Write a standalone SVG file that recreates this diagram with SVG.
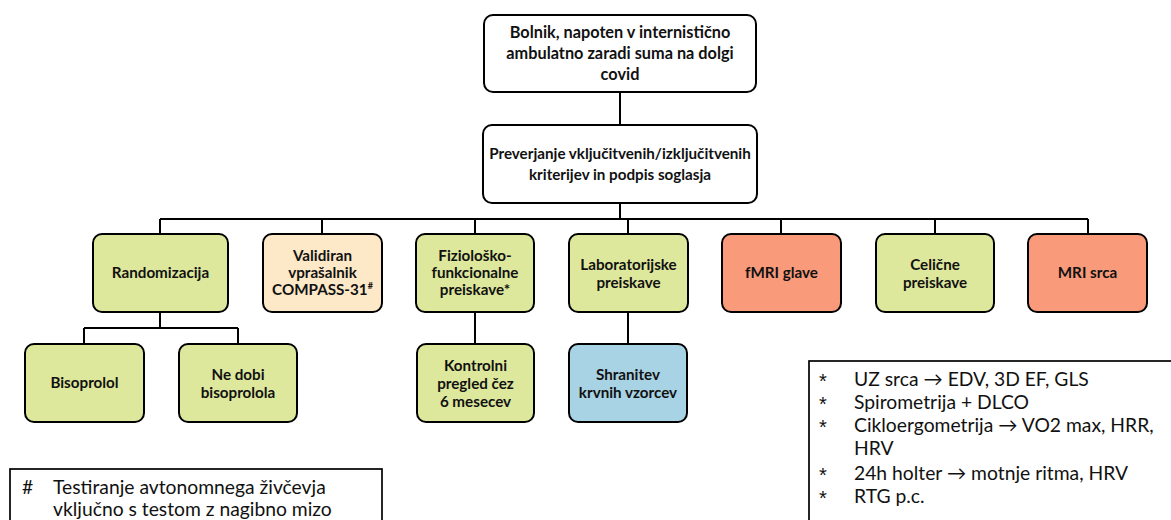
<svg xmlns="http://www.w3.org/2000/svg" width="1171" height="520" viewBox="0 0 1171 520">
<style>
.box{stroke:#000;stroke-width:2}
.w{fill:#fff}
.g{fill:#DEE89C}
.p{fill:#FDE8C8}
.r{fill:#F99A7B}
.b{fill:#A8D3E4}
.t{font-family:Lato,"Liberation Sans",sans-serif;font-weight:bold;font-size:15.2px;fill:#111;text-anchor:middle}
.t2{font-family:Lato,"Liberation Sans",sans-serif;font-weight:bold;font-size:16.3px;fill:#111;text-anchor:middle}
.l{font-family:Lato,"Liberation Sans",sans-serif;font-size:19.3px;fill:#111}
.s{font-family:"Liberation Sans",sans-serif;font-size:20px;fill:#111}
.c{fill:none;stroke:#000;stroke-width:2}
</style>
<g id="connectors">
<path class="c" d="M620 92V125M620 203V219M160 219H1088M160 219V234M322 219V234M475 219V234M628 219V234M781 219V234M935 219V234M1088 219V234"/>
<path class="c" d="M160 312V328M84 328H238M84 328V344M238 328V344M475 312V344M628 312V344"/>
</g>
<g id="n_bolnik">
<rect class="box w" x="484" y="15" width="272" height="77" rx="9"/>
<text class="t2" x="620"><tspan x="620" y="38">Bolnik, napoten v internistično</tspan><tspan x="620" y="59">ambulatno zaradi suma na dolgi</tspan><tspan x="620" y="80">covid</tspan></text>
</g>
<g id="n_preverjanje">
<rect class="box w" x="483" y="125" width="274" height="78" rx="9"/>
<text class="t" x="620"><tspan x="620" y="159">Preverjanje vključitvenih/izključitvenih</tspan><tspan x="620" y="180">kriterijev in podpis soglasja</tspan></text>
</g>
<g id="n_random">
<rect class="box g" x="93" y="234" width="135" height="78" rx="9"/>
<text class="t" x="160.5" y="278">Randomizacija</text>
</g>
<g id="n_validiran">
<rect class="box p" x="263" y="234" width="119" height="78" rx="9"/>
<text class="t" x="322.5"><tspan x="322.5" y="261">Validiran</tspan><tspan x="322.5" y="278">vprašalnik</tspan><tspan x="322.5" y="295">COMPASS-31<tspan font-size="9" dy="-6">#</tspan></tspan></text>
</g>
<g id="n_fizio">
<rect class="box g" x="416" y="234" width="118" height="78" rx="9"/>
<text class="t" x="475"><tspan x="475" y="261">Fiziološko-</tspan><tspan x="475" y="278">funkcionalne</tspan><tspan x="475" y="295">preiskave*</tspan></text>
</g>
<g id="n_lab">
<rect class="box g" x="569" y="234" width="119" height="78" rx="9"/>
<text class="t" x="628.5"><tspan x="628.5" y="270">Laboratorijske</tspan><tspan x="628.5" y="288">preiskave</tspan></text>
</g>
<g id="n_fmri">
<rect class="box r" x="722" y="234" width="119" height="78" rx="9"/>
<text class="t" x="781.5" y="278">fMRI glave</text>
</g>
<g id="n_celicne">
<rect class="box g" x="876" y="234" width="118" height="78" rx="9"/>
<text class="t" x="935"><tspan x="935" y="270">Celične</tspan><tspan x="935" y="288">preiskave</tspan></text>
</g>
<g id="n_mri">
<rect class="box r" x="1028" y="234" width="119" height="78" rx="9"/>
<text class="t" x="1087.5" y="278">MRI srca</text>
</g>
<g id="n_bisoprolol">
<rect class="box g" x="25" y="344" width="119" height="78" rx="9"/>
<text class="t" x="84.5" y="388">Bisoprolol</text>
</g>
<g id="n_nedobi">
<rect class="box g" x="179" y="344" width="118" height="78" rx="9"/>
<text class="t" x="238"><tspan x="238" y="380">Ne dobi</tspan><tspan x="238" y="398">bisoprolola</tspan></text>
</g>
<g id="n_kontrolni">
<rect class="box g" x="417" y="344" width="117" height="78" rx="9"/>
<text class="t" x="475.5"><tspan x="475.5" y="371">Kontrolni</tspan><tspan x="475.5" y="389">pregled čez</tspan><tspan x="475.5" y="407">6 mesecev</tspan></text>
</g>
<g id="n_shranitev">
<rect class="box b" x="569" y="344" width="118" height="78" rx="9"/>
<text class="t" x="628"><tspan x="628" y="380">Shranitev</tspan><tspan x="628" y="398">krvnih vzorcev</tspan></text>
</g>
<g id="legend_hash">
<rect x="10" y="469" width="372" height="70" fill="#fff" stroke="#000" stroke-width="1.7"/>
<text class="l"><tspan x="22" y="494">#</tspan><tspan x="53" y="494">Testiranje avtonomnega živčevja</tspan><tspan x="53" y="516">vključno s testom z nagibno mizo</tspan></text>
</g>
<g id="legend_star">
<rect x="809" y="361" width="380" height="180" fill="#fff" stroke="#000" stroke-width="1.7"/>
<text class="s"><tspan x="819" y="388">*</tspan><tspan x="819" y="411">*</tspan><tspan x="819" y="434">*</tspan><tspan x="819" y="482">*</tspan><tspan x="819" y="505">*</tspan></text>
<text class="l">
<tspan x="854" y="386">UZ srca → EDV, 3D EF, GLS</tspan>
<tspan x="854" y="409">Spirometrija + DLCO</tspan>
<tspan x="854" y="432">Cikloergometrija → VO2 max, HRR,</tspan>
<tspan x="854" y="455">HRV</tspan>
<tspan x="854" y="480">24h holter → motnje ritma, HRV</tspan>
<tspan x="854" y="503">RTG p.c.</tspan>
</text>
</g>
</svg>
